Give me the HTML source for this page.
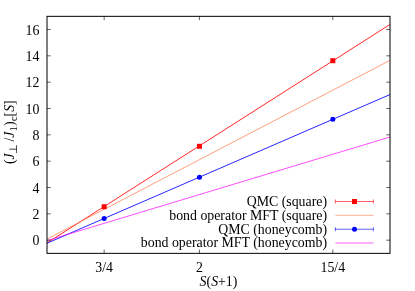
<!DOCTYPE html>
<html><head><meta charset="utf-8"><title>plot</title>
<style>
html,body{margin:0;padding:0;background:#fff;}
body{width:415px;height:291px;overflow:hidden;}
svg{display:block;will-change:transform;transform:translateZ(0);}
text{font-family:"Liberation Serif",serif;font-size:13.85px;fill:#000;}
</style></head><body>
<svg width="415" height="291" viewBox="0 0 415 291">
<rect x="0" y="0" width="415" height="291" fill="#fff"/>
<line x1="47.00" y1="242.95" x2="390.00" y2="24.43" stroke="#ff0000" stroke-width="0.85"/>
<line x1="47.00" y1="239.10" x2="390.00" y2="60.35" stroke="#ff7f50" stroke-width="0.75"/>
<line x1="47.00" y1="243.24" x2="390.00" y2="94.55" stroke="#0000ff" stroke-width="0.85"/>
<line x1="47.00" y1="240.60" x2="390.00" y2="137.00" stroke="#ff00ff" stroke-width="0.7"/>
<rect x="101.67" y="204.25" width="5" height="5" fill="#ff0000"/>
<rect x="196.94" y="143.80" width="5" height="5" fill="#ff0000"/>
<rect x="330.33" y="58.21" width="5" height="5" fill="#ff0000"/>
<circle cx="104.17" cy="218.46" r="2.5" fill="#0000ff"/>
<circle cx="199.44" cy="177.24" r="2.5" fill="#0000ff"/>
<circle cx="332.83" cy="119.17" r="2.5" fill="#0000ff"/>
<rect x="47.0" y="16.33" width="343.0" height="237.01999999999998" fill="none" stroke="#000" stroke-width="1"/>
<path d="M47.0 240.18h3.8M390.0 240.18h-3.8M47.0 213.85h3.8M390.0 213.85h-3.8M47.0 187.51h3.8M390.0 187.51h-3.8M47.0 161.18h3.8M390.0 161.18h-3.8M47.0 134.84h3.8M390.0 134.84h-3.8M47.0 108.50h3.8M390.0 108.50h-3.8M47.0 82.17h3.8M390.0 82.17h-3.8M47.0 55.83h3.8M390.0 55.83h-3.8M47.0 29.50h3.8M390.0 29.50h-3.8M104.17 253.35v-3.8M104.17 16.33v3.8M199.44 253.35v-3.8M199.44 16.33v3.8M332.83 253.35v-3.8M332.83 16.33v3.8" stroke="#000" stroke-width="0.6" fill="none"/>
<text x="39.4" y="245.48" text-anchor="end">0</text>
<text x="39.4" y="219.15" text-anchor="end">2</text>
<text x="39.4" y="192.81" text-anchor="end">4</text>
<text x="39.4" y="166.48" text-anchor="end">6</text>
<text x="39.4" y="140.14" text-anchor="end">8</text>
<text x="39.4" y="113.80" text-anchor="end">10</text>
<text x="39.4" y="87.47" text-anchor="end">12</text>
<text x="39.4" y="61.13" text-anchor="end">14</text>
<text x="39.4" y="34.80" text-anchor="end">16</text>
<text x="104.17" y="271.8" text-anchor="middle">3/4</text>
<text x="199.44" y="271.8" text-anchor="middle">2</text>
<text x="332.83" y="271.8" text-anchor="middle">15/4</text>
<text x="218.50" y="286" text-anchor="middle"><tspan font-style="italic">S</tspan>(<tspan font-style="italic">S</tspan>+1)</text>
<text transform="translate(13.8,132.2) rotate(-90)" text-anchor="middle">(<tspan font-style="italic">J</tspan><tspan font-size="11px" dy="3" dx="-1.2">&#8869;</tspan><tspan dy="-3" dx="3">/</tspan><tspan font-style="italic">J</tspan><tspan font-size="11px" dy="3">1</tspan><tspan dy="-3">)</tspan><tspan font-size="11px" dy="3">c</tspan><tspan dy="-3">[</tspan><tspan font-style="italic">S</tspan>]</text>
<text x="327" y="205.80" text-anchor="end">QMC (square)</text>
<line x1="335.4" y1="201.5" x2="373.4" y2="201.5" stroke="#ff0000" stroke-width="0.62"/>
<path d="M335.4 199.5v4M373.4 199.5v4" stroke="#ff0000" stroke-width="0.62"/>
<text x="327" y="219.60" text-anchor="end">bond operator MFT (square)</text>
<line x1="335.4" y1="215.3" x2="373.4" y2="215.3" stroke="#ff7f50" stroke-width="0.62"/>
<text x="327" y="233.55" text-anchor="end">QMC (honeycomb)</text>
<line x1="335.4" y1="229.25" x2="373.4" y2="229.25" stroke="#0000ff" stroke-width="0.62"/>
<path d="M335.4 227.25v4M373.4 227.25v4" stroke="#0000ff" stroke-width="0.62"/>
<text x="327" y="247.30" text-anchor="end">bond operator MFT (honeycomb)</text>
<line x1="335.4" y1="243.0" x2="373.4" y2="243.0" stroke="#ff00ff" stroke-width="0.62"/>
<rect x="352" y="199.0" width="5" height="5" fill="#ff0000"/>
<circle cx="354.5" cy="229.25" r="2.5" fill="#0000ff"/>
</svg></body></html>
